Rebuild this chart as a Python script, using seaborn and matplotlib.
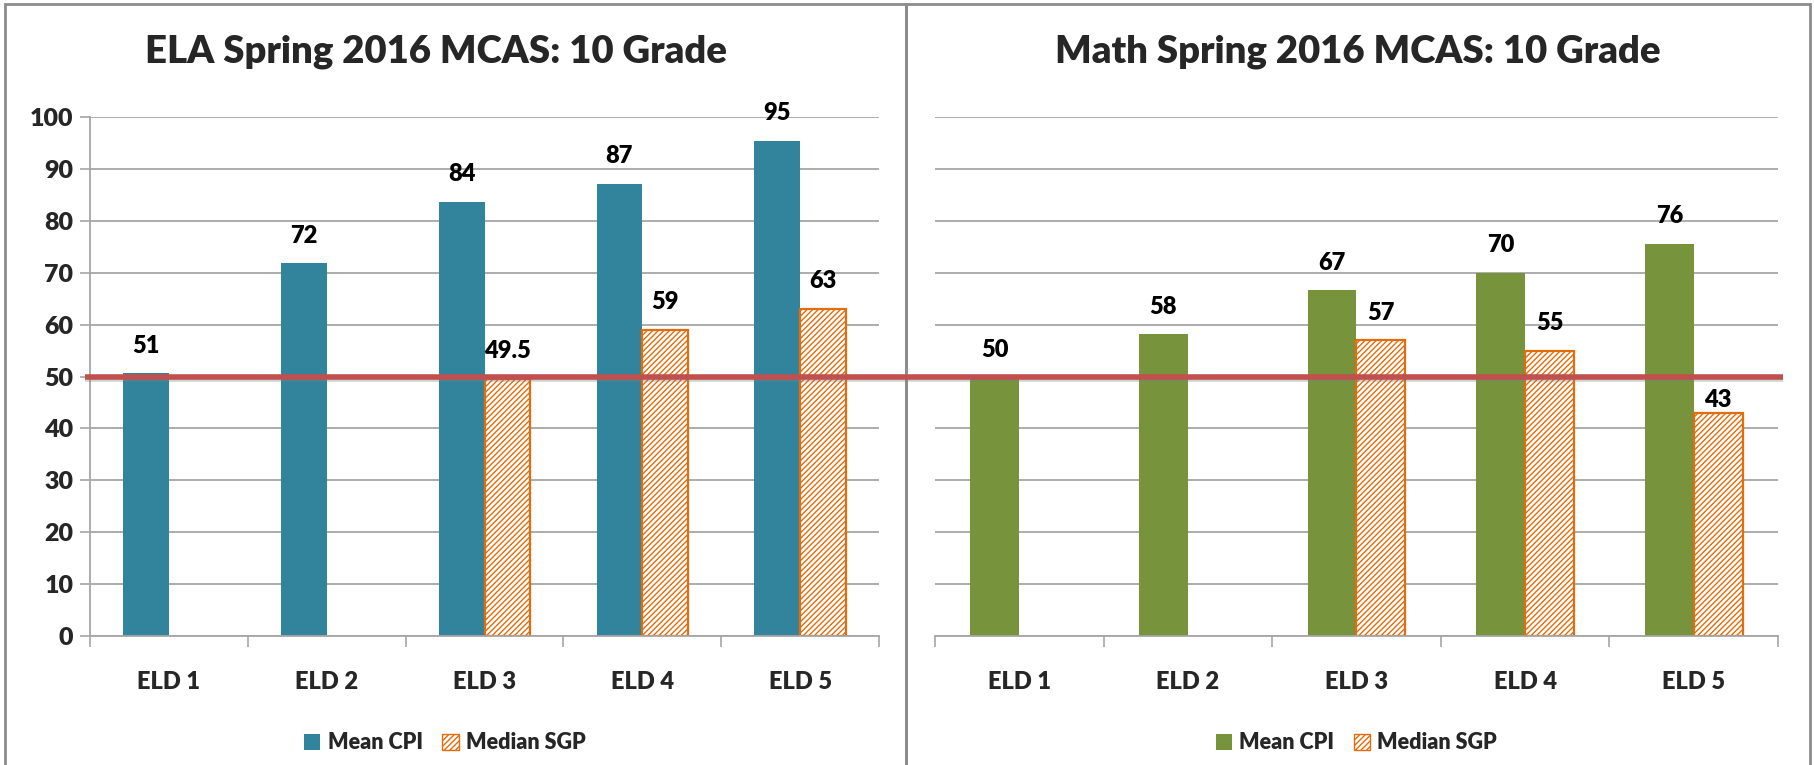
"""ELA / Math Spring 2016 MCAS (grade 10): mean CPI and median SGP by ELD level."""

import matplotlib

matplotlib.use("Agg")

import matplotlib.patheffects as pe
import matplotlib.pyplot as plt
import numpy as np
import pandas as pd
import seaborn as sns
from matplotlib.lines import Line2D
from matplotlib.patches import Patch, Rectangle

# --- data ------------------------------------------------------------------
eld_levels = ["ELD 1", "ELD 2", "ELD 3", "ELD 4", "ELD 5"]
series_names = ["Mean CPI", "Median SGP"]

ela_mean_cpi = [50.6, 71.8, 83.6, 87.1, 95.4]
ela_median_sgp = [np.nan, np.nan, 49.5, 59, 63]

math_mean_cpi = [49.8, 58.1, 66.6, 70.0, 75.6]
math_median_sgp = [np.nan, np.nan, 57, 55, 43]

benchmark = 50
y_ticks = list(range(0, 101, 10))

titles = ["ELA Spring 2016 MCAS: 10 Grade", "Math Spring 2016 MCAS: 10 Grade"]

# --- style ----------------------------------------------------------------
ELA_COLOR = "#31849B"
MATH_COLOR = "#77933C"
SGP_COLOR = "#E46C0A"
LINE_COLOR = "#C0504D"
GRID_COLOR = "#A6A6A6"
BORDER_COLOR = "#8C8C8C"

sns.set_style("white")
plt.rcParams["font.family"] = ["Lato", "DejaVu Sans"]
plt.rcParams["font.weight"] = "bold"
plt.rcParams["hatch.linewidth"] = 1.0

W, H, DPI = 1814, 765, 100


def build_frame(cpi, sgp):
    df = pd.DataFrame(
        {
            "eld": eld_levels * 2,
            "series": [series_names[0]] * 5 + [series_names[1]] * 5,
            "value": list(cpi) + list(sgp),
        }
    )
    return df.dropna()


def draw_panel(ax, df, cpi_color, show_y, nudges, legend_x):
    sns.barplot(
        data=df,
        x="eld",
        y="value",
        hue="series",
        order=eld_levels,
        hue_order=series_names,
        palette=[cpi_color, SGP_COLOR],
        width=0.58,
        saturation=1,
        errorbar=None,
        legend=False,
        ax=ax,
    )
    cpi_bars, sgp_bars = ax.containers[0], ax.containers[1]
    for bar in cpi_bars:
        bar.set_edgecolor("none")
    for bar in sgp_bars:
        bar.set_facecolor("white")
        bar.set_edgecolor(SGP_COLOR)
        bar.set_linewidth(1.6)
        bar.set_hatch("//////")

    cpi_vals = df.loc[df["series"] == series_names[0], "value"].to_numpy()
    sgp_vals = df.loc[df["series"] == series_names[1], "value"].to_numpy()
    label_kw = dict(padding=12, fontsize=17, fontweight="heavy", color="black")
    ax.bar_label(cpi_bars, labels=[f"{v:.0f}" for v in cpi_vals], **label_kw)
    texts = ax.bar_label(sgp_bars, labels=[f"{v:g}" for v in sgp_vals], **label_kw)
    for idx, dy in nudges.items():
        texts[idx].xyann = (0, texts[idx].xyann[1] + dy)

    ax.set_ylim(0, 100)
    ax.set_xlim(-0.5, len(eld_levels) - 0.5)
    ax.set_yticks(y_ticks)
    ax.yaxis.grid(True, color=GRID_COLOR, linewidth=1.3)
    ax.set_axisbelow(True)
    ax.set_xlabel("")
    ax.set_ylabel("")

    # category-boundary tick marks, Excel style
    ax.set_xticks(np.arange(-0.5, len(eld_levels)), minor=True)
    ax.tick_params(axis="x", which="major", length=0, pad=25, labelsize=17)
    ax.tick_params(axis="x", which="minor", length=8, width=1.2, color=GRID_COLOR,
                   direction="out", bottom=True)

    for side in ("top", "right"):
        ax.spines[side].set_visible(False)
    ax.spines["bottom"].set_color(GRID_COLOR)
    ax.spines["bottom"].set_linewidth(1.3)
    if show_y:
        ax.spines["left"].set_color(GRID_COLOR)
        ax.spines["left"].set_linewidth(1.3)
        ax.tick_params(axis="y", length=7, width=1.2, color=GRID_COLOR,
                       direction="out", left=True, pad=5, labelsize=18)
    else:
        ax.spines["left"].set_visible(False)
        ax.tick_params(axis="y", left=False, labelleft=False)

    for lab in ax.get_xticklabels() + ax.get_yticklabels():
        lab.set_fontweight("heavy")

    handles = [
        Patch(facecolor=cpi_color, edgecolor="none", label=series_names[0]),
        Patch(facecolor="white", edgecolor=SGP_COLOR, hatch="//////",
              label=series_names[1]),
    ]
    ax.legend(handles=handles, loc="center", bbox_to_anchor=(legend_x, -0.206),
              ncol=2, frameon=False, handlelength=0.75, handleheight=0.75,
              handletextpad=0.35, columnspacing=0.9,
              prop={"size": 15.5, "weight": "heavy"})


fig = plt.figure(figsize=(W / DPI, H / DPI), dpi=DPI)
fig.patch.set_facecolor("white")

ax_ela = fig.add_axes([90 / W, 1 - 636 / H, (879 - 90) / W, (636 - 117) / H])
ax_math = fig.add_axes([935 / W, 1 - 636 / H, (1778 - 935) / W, (636 - 117) / H])

draw_panel(ax_ela, build_frame(ela_mean_cpi, ela_median_sgp), ELA_COLOR, True, {},
           0.45)
draw_panel(ax_math, build_frame(math_mean_cpi, math_median_sgp), MATH_COLOR, False,
           {2: -11}, 0.5)

for x_px, title in zip((436, 1358), titles):
    fig.text(x_px / W, 1 - 52 / H, title, ha="center", va="center",
             fontsize=27.5, fontweight="heavy")

# chart-area borders
fig.add_artist(Rectangle((5 / W, -0.01), (906 - 5) / W, 1.01 - 4 / H,
                         transform=fig.transFigure, fill=False,
                         edgecolor=BORDER_COLOR, linewidth=2))
fig.add_artist(Rectangle((906 / W, -0.01), (1810 - 906) / W, 1.01 - 4 / H,
                         transform=fig.transFigure, fill=False,
                         edgecolor=BORDER_COLOR, linewidth=2))

# benchmark line spanning both charts
fig.canvas.draw()
y_px = ax_ela.transData.transform((0, benchmark))[1]
x_left = ax_ela.transAxes.transform((0, 0))[0] - 5
x_right = ax_math.transAxes.transform((1, 0))[0] + 5
to_fig = fig.transFigure.inverted()
(fx0, fy), (fx1, _) = to_fig.transform([(x_left, y_px), (x_right, y_px)])
fig.add_artist(Line2D([fx0, fx1], [fy, fy], transform=fig.transFigure,
                      color=LINE_COLOR, linewidth=4, solid_capstyle="butt",
                      path_effects=[pe.SimpleLineShadow(offset=(0, -2),
                                                        shadow_color="gray",
                                                        alpha=0.35),
                                    pe.Normal()]))

fig.savefig("out.png", dpi=DPI)
plt.close(fig)
